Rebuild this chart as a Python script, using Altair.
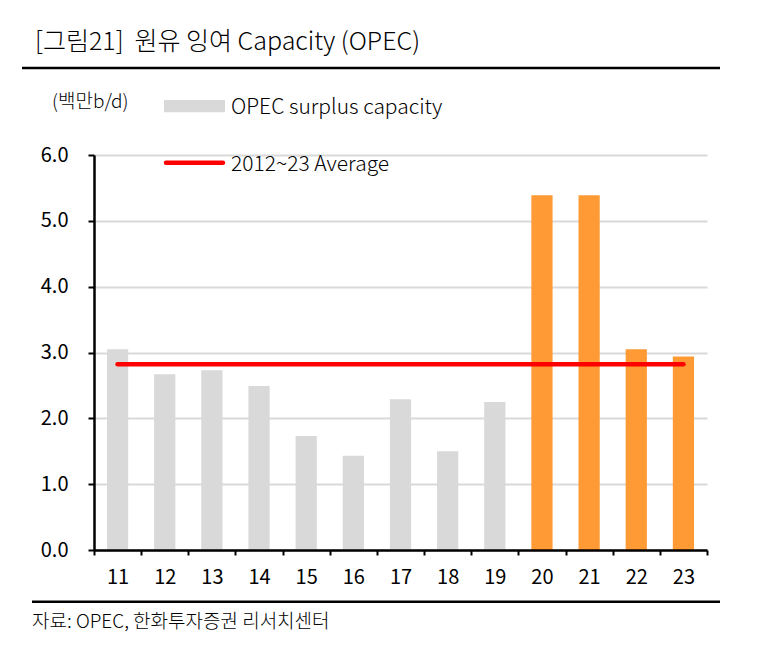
import altair as alt
import pandas as pd

# ---- data ----
years = ["11", "12", "13", "14", "15", "16", "17", "18", "19", "20", "21", "22", "23"]
surplus = [3.05, 2.67, 2.73, 2.49, 1.73, 1.43, 2.29, 1.50, 2.25, 5.39, 5.39, 3.05, 2.94]
groups = ["past"] * 9 + ["recent"] * 4
average_value = 2.82
y_ticks = [0, 1, 2, 3, 4, 5, 6]

title_text = "[그림21]\u00a0\u00a0원유 잉여 Capacity (OPEC)"
unit_text = "(백만b/d)"
legend_bar_text = "OPEC surplus capacity"
legend_line_text = "2012~23 Average"
source_text = "자료: OPEC, 한화투자증권 리서치센터"

FONT = "Noto Sans CJK KR"
GRAY = "#D9D9D9"
ORANGE = "#FF9A35"
RED = "#FF0000"

bars_df = pd.DataFrame({"year": years, "value": surplus, "group": groups})
avg_df = pd.DataFrame({"year": years, "value": [average_value] * len(years)})

x_enc = alt.X(
    "year:N",
    sort=years,
    scale=alt.Scale(paddingInner=0, paddingOuter=0),
    axis=alt.Axis(
        title=None, labelAngle=0, tickBand="extent", tickSize=5, tickWidth=2,
        tickColor="black", domainColor="black", domainWidth=2.5,
        labelFontSize=20, labelColor="black", labelPadding=12, labelFont=FONT,
        labelFontWeight=400, grid=False, zindex=1,
    ),
)
y_enc = alt.Y(
    "value:Q",
    scale=alt.Scale(domain=[0, 6], nice=False),
    axis=alt.Axis(
        title=None, values=y_ticks, format=".1f", tickSize=6, tickWidth=2,
        tickColor="black", domainColor="black", domainWidth=2.5,
        grid=True, gridColor=GRAY, gridWidth=2,
        labelFontSize=20, labelColor="black", labelPadding=20, labelFont=FONT,
        labelFontWeight=400,
    ),
)

bars = alt.Chart(bars_df).mark_bar(width=alt.RelativeBandSize(0.45)).encode(
    x=x_enc,
    y=y_enc,
    color=alt.Color("group:N", scale=alt.Scale(domain=["past", "recent"], range=[GRAY, ORANGE]), legend=None),
)

avg_line = alt.Chart(avg_df).mark_line(color=RED, strokeWidth=4.5, strokeCap="round").encode(
    x=alt.X("year:N", sort=years),
    y="value:Q",
)


def text_layer(txt, x, y, size, color="black", weight=300):
    return alt.Chart(pd.DataFrame({"t": [txt]})).mark_text(
        align="left", baseline="middle", font=FONT, fontSize=size, color=color, fontWeight=weight
    ).encode(x=alt.value(x), y=alt.value(y), text="t:N")


one = pd.DataFrame({"a": [0]})

title = text_layer(title_text, -59, -113, 25)
title_rule = alt.Chart(one).mark_rule(color="black", strokeWidth=2.5).encode(
    x=alt.value(-72), x2=alt.value(626), y=alt.value(-87))
unit = text_layer(unit_text, -42, -53, 19)
leg_rect = alt.Chart(one).mark_rect(color=GRAY).encode(
    x=alt.value(70), x2=alt.value(131), y=alt.value(-55), y2=alt.value(-42.7))
leg_text1 = text_layer(legend_bar_text, 137, -47, 21)
leg_line = alt.Chart(one).mark_rule(color=RED, strokeWidth=4.5, strokeCap="round").encode(
    x=alt.value(72), x2=alt.value(129), y=alt.value(7.7))
leg_text2 = text_layer(legend_line_text, 137, 9.5, 21)
bottom_rule = alt.Chart(one).mark_rule(color="black", strokeWidth=2.5).encode(
    x=alt.value(-62), x2=alt.value(626), y=alt.value(446.7))
source = text_layer(source_text, -62, 467, 19)

chart = alt.layer(
    bars, avg_line, title, title_rule, unit, leg_rect, leg_text1, leg_line, leg_text2,
    bottom_rule, source,
).properties(
    width=613,
    height=395,
    padding={"left": 86, "top": 147, "right": 36, "bottom": 95},
    autosize=alt.AutoSizeParams(type="none"),
).configure(font=FONT, view={"stroke": None})

chart.save("out.html", embed_options={"renderer": "svg", "actions": False})
